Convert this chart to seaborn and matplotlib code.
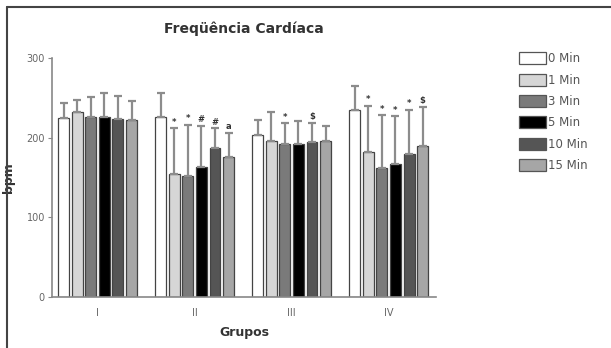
import numpy as np
import pandas as pd
import seaborn as sns
import matplotlib.pyplot as plt
from matplotlib.lines import Line2D
from matplotlib.patches import Patch

grupos = ["I", "II", "III", "IV"]
tempos = ["0 Min", "1 Min", "3 Min", "5 Min", "10 Min", "15 Min"]

# mean bpm per group, one list per time
media = {
    "0 Min": [225, 226, 204, 235],
    "1 Min": [232, 155, 196, 182],
    "3 Min": [226, 152, 192, 162],
    "5 Min": [226, 163, 192, 167],
    "10 Min": [224, 187, 195, 179],
    "15 Min": [222, 176, 196, 189],
}
# upper error (SD)
erro = {
    "0 Min": [18, 30, 18, 30],
    "1 Min": [15, 57, 36, 58],
    "3 Min": [25, 64, 26, 66],
    "5 Min": [30, 52, 29, 60],
    "10 Min": [29, 25, 24, 56],
    "15 Min": [24, 30, 19, 50],
}
# significance marks above the error bars
marcas = {
    "0 Min": ["", "", "", ""],
    "1 Min": ["", "*", "", "*"],
    "3 Min": ["", "*", "*", "*"],
    "5 Min": ["", "#", "", "*"],
    "10 Min": ["", "#", "$", "*"],
    "15 Min": ["", "a", "", "$"],
}

cores = ["#ffffff", "#d6d6d6", "#7a7a7a", "#000000", "#555555", "#a6a6a6"]

df = pd.DataFrame(
    [(g, t, media[t][i]) for t in tempos for i, g in enumerate(grupos)],
    columns=["grupo", "tempo", "bpm"],
)

sns.set_style("white")
fig = plt.figure(figsize=(6.11, 3.48), dpi=100)
ax = fig.add_axes([0.085, 0.147, 0.629, 0.686])

sns.barplot(data=df, x="grupo", y="bpm", hue="tempo", hue_order=tempos,
            palette=cores, errorbar=None, width=0.84, gap=0.2,
            edgecolor="#444444", linewidth=0.9, legend=False, ax=ax)

for t, cont in zip(tempos, ax.containers):
    xs = [p.get_x() + p.get_width() / 2 for p in cont.patches]
    ys = [p.get_height() for p in cont.patches]
    ax.errorbar(xs, ys, yerr=[[0] * len(ys), erro[t]], fmt="none",
                ecolor="#8c8c8c", elinewidth=1.6, capsize=3, capthick=1.6, zorder=1)
    for x, y, e, m in zip(xs, ys, erro[t], marcas[t]):
        if m:
            ax.text(x, y + e + 2, m, ha="center", va="bottom", fontsize=6,
                    color="#333333", fontweight="bold")

ax.set_ylim(0, 300)
ax.set_xlim(-0.47, 3.49)
ax.set_yticks([0, 100, 200, 300])
ax.tick_params(axis="y", length=3, width=0.8, color="#888888", labelsize=7,
               labelcolor="#666666", pad=2, left=True)
ax.tick_params(axis="x", length=0, labelsize=7, labelcolor="#666666", pad=8)
sns.despine(ax=ax)
for s in ["left", "bottom"]:
    ax.spines[s].set_color("#888888")
    ax.spines[s].set_linewidth(1.2)

ax.set_xlabel("Grupos", fontsize=9, fontweight="bold", color="#333333", labelpad=6)
ax.set_ylabel("bpm", fontsize=9, fontweight="bold", color="#333333", labelpad=8)
ax.set_title("Freqüência Cardíaca", fontsize=10, fontweight="bold",
             color="#333333", pad=18)

handles = [Patch(facecolor=c, edgecolor="#555555", linewidth=0.9) for c in cores]
fig.legend(handles, tempos, loc="upper left", bbox_to_anchor=(0.832, 0.88),
           frameon=False, fontsize=8.5, labelcolor="#555555", handlelength=2.3,
           handleheight=1.2, handletextpad=0.2, labelspacing=0.7)

fig.add_artist(Line2D([0.012, 1.0], [0.98, 0.98], color="#444444", lw=1.5))
fig.add_artist(Line2D([0.012, 0.012], [0.0, 0.98], color="#444444", lw=1.5))

fig.savefig("out.png", dpi=100)
